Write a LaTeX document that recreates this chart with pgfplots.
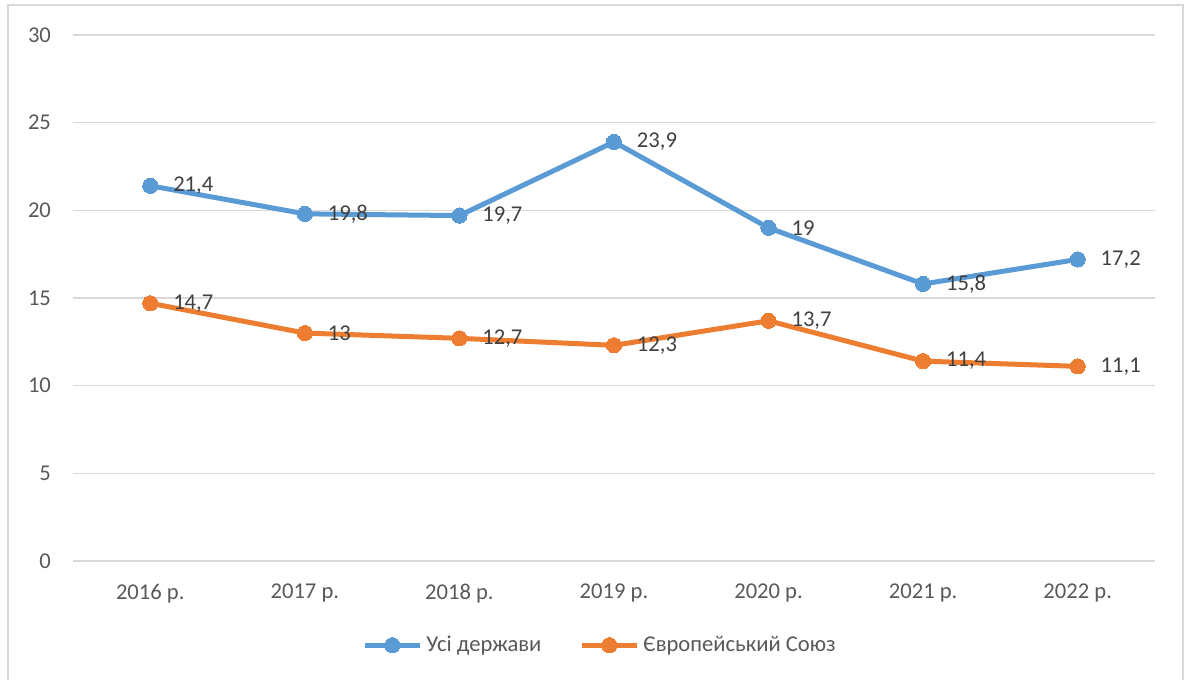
\documentclass[border=0pt]{standalone}
\usepackage{fontspec}
\setmainfont{Carlito}
\usepackage{pgfplots}
\pgfplotsset{compat=1.18}
\definecolor{cblue}{HTML}{5B9BD5}
\definecolor{corange}{HTML}{ED7D31}
\definecolor{cgrid}{HTML}{D9D9D9}
\definecolor{ctick}{HTML}{595959}
\definecolor{clabel}{HTML}{404040}
\begin{document}
\begin{tikzpicture}
\useasboundingbox (0,0) rectangle (592.5pt,340pt);
\draw[cgrid, line width=0.8pt] (4pt,-2pt) -- (4pt,337.5pt) -- (591.5pt,337.5pt) -- (591.5pt,-2pt);
\begin{axis}[
  at={(36.5pt,59.5pt)}, anchor=south west,
  scale only axis, width=541pt, height=263pt,
  xmin=-0.5, xmax=6.5, ymin=0, ymax=30,
  xtick={0,1,2,3,4,5,6},
  xticklabels={2016 р.,2017 р.,2018 р.,2019 р.,2020 р.,2021 р.,2022 р.},
  ytick={0,5,10,15,20,25,30},
  ymajorgrids, grid style={cgrid, line width=0.7pt},
  axis line style={draw=none},
  major tick length=0pt,
  tick label style={font=\fontsize{11.3}{13}\selectfont, text=ctick},
  yticklabel style={xshift=-7.5pt},
  xticklabel style={yshift=-8pt},
  /pgf/number format/assume math mode=true,
  /pgf/number format/use comma,
  nodes near coords,
  every node near coord/.append style={anchor=west, inner sep=0pt, xshift=11.5pt, font=\fontsize{11.3}{13}\selectfont, text=clabel},
  legend style={at={(0.488,-0.16)}, anchor=center, draw=none, legend columns=2,
    font=\fontsize{11.3}{13}\selectfont, text=ctick,
    /tikz/every even column/.append style={column sep=17pt}},
  legend cell align=left,
  legend image code/.code={
    \draw[#1, mark repeat=2, mark phase=2] plot coordinates {(0pt,0pt) (13.75pt,0pt) (27.5pt,0pt)};
  },
]
\addplot[cblue, line width=2.5pt, mark=*, mark size=3.8pt, mark options={solid, fill=cblue, draw=cblue, line width=0pt}]
  coordinates {(0,21.4) (1,19.8) (2,19.7) (3,23.9) (4,19) (5,15.8) (6,17.2)};
\addlegendentry{Усі держави}
\addplot[corange, line width=2.5pt, mark=*, mark size=3.8pt, mark options={solid, fill=corange, draw=corange, line width=0pt}]
  coordinates {(0,14.7) (1,13) (2,12.7) (3,12.3) (4,13.7) (5,11.4) (6,11.1)};
\addlegendentry{Європейський Союз}
\end{axis}
\end{tikzpicture}
\end{document}
